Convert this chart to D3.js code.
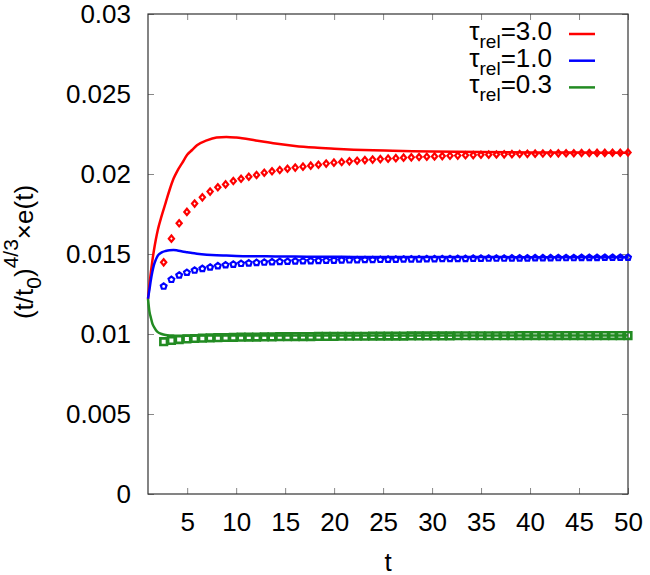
<!DOCTYPE html>
<html>

<head>
  <title>Energy density</title>
  <script src="https://cdn.jsdelivr.net/npm/d3@7"></script>
  <style>
    body { margin: 0; background: #fff; }
    text { font-family: "Liberation Sans", Arial, sans-serif; fill: #000; }
  </style>
</head>

<body>
  <svg width="650" height="575" id="mainsvg"></svg>
  <script>
    const svg = d3.select('#mainsvg');
    const margin = { top: 14, right: 22, bottom: 81, left: 148 };
    const width = +svg.attr('width');
    const height = +svg.attr('height');
    const innerWidth = width - margin.left - margin.right;
    const innerHeight = height - margin.top - margin.bottom;

    // tick values / labels
    const xTicks = [5, 10, 15, 20, 25, 30, 35, 40, 45, 50];
    const yTicks = [0, 0.005, 0.01, 0.015, 0.02, 0.025, 0.03];
    const yTickLabels = ['0', '0.005', '0.01', '0.015', '0.02', '0.025', '0.03'];

    // series names and colours
    const seriesNames = ['3.0', '1.0', '0.3'];
    const seriesColors = ['#ff0000', '#0000ff', '#228b22'];

    // solid curves, all sampled on the same t values
    const lineT = [1.0, 1.15, 1.3, 1.45, 1.6, 1.8, 2.0, 2.4, 2.8, 3.2, 3.6, 4.0, 4.5, 5.0, 5.5, 6.0, 7.0, 8.0,
      9.0, 10, 12, 14, 16, 18, 20, 22, 24, 26, 28, 30, 35, 40, 45, 50];
    const lineRed = [0.0122, 0.0131, 0.0139, 0.0146, 0.0152, 0.0159, 0.0165, 0.0174, 0.0182, 0.0190, 0.0197, 0.0202,
      0.0207, 0.0212, 0.0215, 0.0218, 0.0221, 0.02228, 0.02232, 0.02228, 0.0221, 0.0219, 0.02175, 0.02165,
      0.02158, 0.02152, 0.02148, 0.02145, 0.02142, 0.0214, 0.02137, 0.02135, 0.02134, 0.02133];
    const lineBlue = [0.0122, 0.0128, 0.0134, 0.0139, 0.0143, 0.01465, 0.0149, 0.0151, 0.01519, 0.01524, 0.01525,
      0.01522, 0.01516, 0.01511, 0.01506, 0.01502, 0.01496, 0.01492, 0.0149, 0.01488, 0.01486, 0.01485, 0.01484,
      0.01483, 0.01483, 0.01482, 0.01482, 0.01482, 0.01481, 0.01481, 0.01481, 0.0148, 0.0148, 0.0148];
    const lineGreen = [0.0122, 0.0114, 0.0110, 0.01065, 0.01045, 0.01025, 0.01012, 0.0100, 0.00994, 0.00991, 0.0099,
      0.00989, 0.00989, 0.00989, 0.00989, 0.0099, 0.0099, 0.0099, 0.0099, 0.0099, 0.0099, 0.00991, 0.00991,
      0.00991, 0.00991, 0.00991, 0.00991, 0.00991, 0.00991, 0.00991, 0.00991, 0.00991, 0.00991, 0.00991];

    // point series, all on the same t values
    const markerT = [2.6, 3.39, 4.18, 4.97, 5.76, 6.55, 7.34, 8.13, 8.92, 9.71, 10.5, 11.29, 12.08, 12.87, 13.66,
      14.45, 15.24, 16.03, 16.82, 17.61, 18.4, 19.19, 19.98, 20.77, 21.56, 22.35, 23.14, 23.93, 24.72, 25.51,
      26.3, 27.09, 27.88, 28.67, 29.46, 30.25, 31.04, 31.83, 32.62, 33.41, 34.2, 34.99, 35.78, 36.57, 37.36,
      38.15, 38.94, 39.73, 40.52, 41.31, 42.1, 42.89, 43.68, 44.47, 45.26, 46.05, 46.84, 47.63, 48.42, 49.21, 50.0];
    const pointsRed = [0.01448, 0.01596, 0.01692, 0.01763, 0.01815, 0.01854, 0.01890, 0.01917, 0.01935, 0.01956,
      0.01970, 0.01983, 0.01994, 0.02008, 0.02017, 0.02025, 0.02033, 0.02040, 0.02046, 0.02052,
      0.02058, 0.02065, 0.02071, 0.02075, 0.02079, 0.02083, 0.02087, 0.02090, 0.02093, 0.02096,
      0.02099, 0.02102, 0.02104, 0.02106, 0.02108, 0.02110, 0.02112, 0.02114, 0.02115, 0.02117,
      0.02118, 0.02120, 0.02121, 0.02122, 0.02123, 0.02124, 0.02125, 0.02126, 0.02127, 0.02128,
      0.02128, 0.02129, 0.02130, 0.02130, 0.02131, 0.02131, 0.02132, 0.02132, 0.02133, 0.02133, 0.02134];
    const pointsBlue = [0.01300, 0.01342, 0.01369, 0.01386, 0.01400, 0.01410, 0.01419, 0.01427, 0.01433, 0.01437,
      0.01442, 0.01445, 0.01448, 0.01450, 0.01452, 0.01454, 0.01455, 0.01457, 0.01458, 0.01459,
      0.01460, 0.01461, 0.01462, 0.01463, 0.01464, 0.01465, 0.01466, 0.01466, 0.01467, 0.01468,
      0.01468, 0.01469, 0.01470, 0.01470, 0.01471, 0.01471, 0.01472, 0.01472, 0.01473, 0.01473,
      0.01474, 0.01474, 0.01475, 0.01475, 0.01475, 0.01476, 0.01476, 0.01476, 0.01477, 0.01477,
      0.01477, 0.01478, 0.01478, 0.01478, 0.01479, 0.01479, 0.01479, 0.01480, 0.01480, 0.01480, 0.01480];
    const pointsGreen = [0.00952, 0.00960, 0.00965, 0.00969, 0.00972, 0.00974, 0.00976, 0.00977, 0.00978, 0.00979,
      0.00980, 0.00981, 0.00981, 0.00982, 0.00982, 0.00983, 0.00983, 0.00984, 0.00984, 0.00984,
      0.00985, 0.00985, 0.00985, 0.00986, 0.00986, 0.00986, 0.00986, 0.00987, 0.00987, 0.00987,
      0.00987, 0.00987, 0.00988, 0.00988, 0.00988, 0.00988, 0.00988, 0.00988, 0.00989, 0.00989,
      0.00989, 0.00989, 0.00989, 0.00989, 0.00989, 0.00989, 0.00990, 0.00990, 0.00990, 0.00990,
      0.00990, 0.00990, 0.00990, 0.00990, 0.00990, 0.00990, 0.00990, 0.00990, 0.00990, 0.00990, 0.00990];

    const lines = [lineRed, lineBlue, lineGreen];
    const points = [pointsRed, pointsBlue, pointsGreen];

    const g = svg.append('g').attr('id', 'maingroup')
      .attr('transform', `translate(${margin.left}, ${margin.top})`);

    const xScale = d3.scaleLinear().domain([1, 50]).range([0, innerWidth]);
    const yScale = d3.scaleLinear().domain([0, 0.03]).range([innerHeight, 0]);

    // axes: inward ticks on all four sides (gnuplot style)
    const styleAxis = sel => {
      sel.select('.domain').remove();
      sel.selectAll('.tick line').attr('stroke', '#888').attr('stroke-width', 1);
      sel.selectAll('.tick text').attr('font-size', 26).attr('font-family', '"Liberation Sans", Arial, sans-serif')
        .attr('fill', '#000');
    };
    const noLabels = sel => sel.selectAll('.tick text').remove();
    g.append('g').attr('transform', `translate(0, ${innerHeight})`)
      .call(d3.axisBottom(xScale).tickValues(xTicks).tickSizeInner(-6).tickSizeOuter(0).tickPadding(18.5))
      .call(styleAxis);
    g.append('g')
      .call(d3.axisTop(xScale).tickValues(xTicks).tickSizeInner(-6).tickSizeOuter(0))
      .call(styleAxis).call(noLabels);
    g.append('g')
      .call(d3.axisLeft(yScale).tickValues(yTicks).tickSizeInner(-6).tickSizeOuter(0).tickPadding(17)
        .tickFormat((d, i) => yTickLabels[i]))
      .call(styleAxis);
    g.append('g').attr('transform', `translate(${innerWidth}, 0)`)
      .call(d3.axisRight(yScale).tickValues(yTicks).tickSizeInner(-6).tickSizeOuter(0))
      .call(styleAxis).call(noLabels);

    // border
    g.append('rect')
      .attr('width', innerWidth).attr('height', innerHeight)
      .attr('fill', 'none').attr('stroke', '#333').attr('stroke-width', 1.2);

    // curves
    const line = d3.line()
      .x((d, i) => xScale(lineT[i]))
      .y(d => yScale(d))
      .curve(d3.curveMonotoneX);

    // marker shapes: diamond, pentagon, square
    const diamond = 'M0,-3.1L2.6,0L0,3.1L-2.6,0Z';
    const pentagon = d3.range(5).map(k => {
      const a = -Math.PI / 2 + k * 2 * Math.PI / 5;
      return [3.0 * Math.cos(a), 3.0 * Math.sin(a) + 0.3];
    });
    const pentPath = 'M' + pentagon.map(p => p.join(',')).join('L') + 'Z';
    const square = 'M-3.3,-3.3H3.3V3.3H-3.3Z';
    const shapes = [diamond, pentPath, square];
    const shapeStroke = [2.2, 2.2, 2.6];

    const plot = g.append('g');
    lines.forEach((vals, s) => {
      plot.append('path').datum(vals)
        .attr('d', line)
        .attr('fill', 'none')
        .attr('stroke', seriesColors[s])
        .attr('stroke-width', 2.5);

      plot.append('g').selectAll('path').data(points[s]).join('path')
        .attr('d', shapes[s])
        .attr('transform', (d, i) => `translate(${xScale(markerT[i])}, ${yScale(d)})`)
        .attr('fill', 'none')
        .attr('stroke', seriesColors[s])
        .attr('stroke-width', shapeStroke[s]);
    });

    // legend
    const legend = g.append('g');
    seriesNames.forEach((name, i) => {
      const by = 26 + i * 26.7;
      const t = legend.append('text')
        .attr('x', 404).attr('y', by)
        .attr('text-anchor', 'end')
        .attr('font-size', 26);
      t.append('tspan').text('τ');
      t.append('tspan').attr('font-size', 19).attr('dy', 8).text('rel');
      t.append('tspan').attr('dy', -8).text('=' + name);
      legend.append('line')
        .attr('x1', 421).attr('x2', 447)
        .attr('y1', by - 6).attr('y2', by - 6)
        .attr('stroke', seriesColors[i]).attr('stroke-width', 2.5);
    });

    // axis titles
    svg.append('text')
      .attr('x', margin.left + innerWidth / 2).attr('y', 571)
      .attr('text-anchor', 'middle').attr('font-size', 26)
      .text('t');

    const yl = svg.append('text')
      .attr('transform', `translate(33, ${margin.top + innerHeight / 2 - 2}) rotate(-90)`)
      .attr('text-anchor', 'middle').attr('font-size', 26);
    yl.append('tspan').text('(t/t');
    yl.append('tspan').attr('font-size', 21).attr('dy', 8).text('0');
    yl.append('tspan').attr('dy', -8).text(')');
    yl.append('tspan').attr('font-size', 21).attr('dy', -15).text('4/3');
    yl.append('tspan').attr('dy', 15).text('×e(t)');
  </script>
</body>

</html>
